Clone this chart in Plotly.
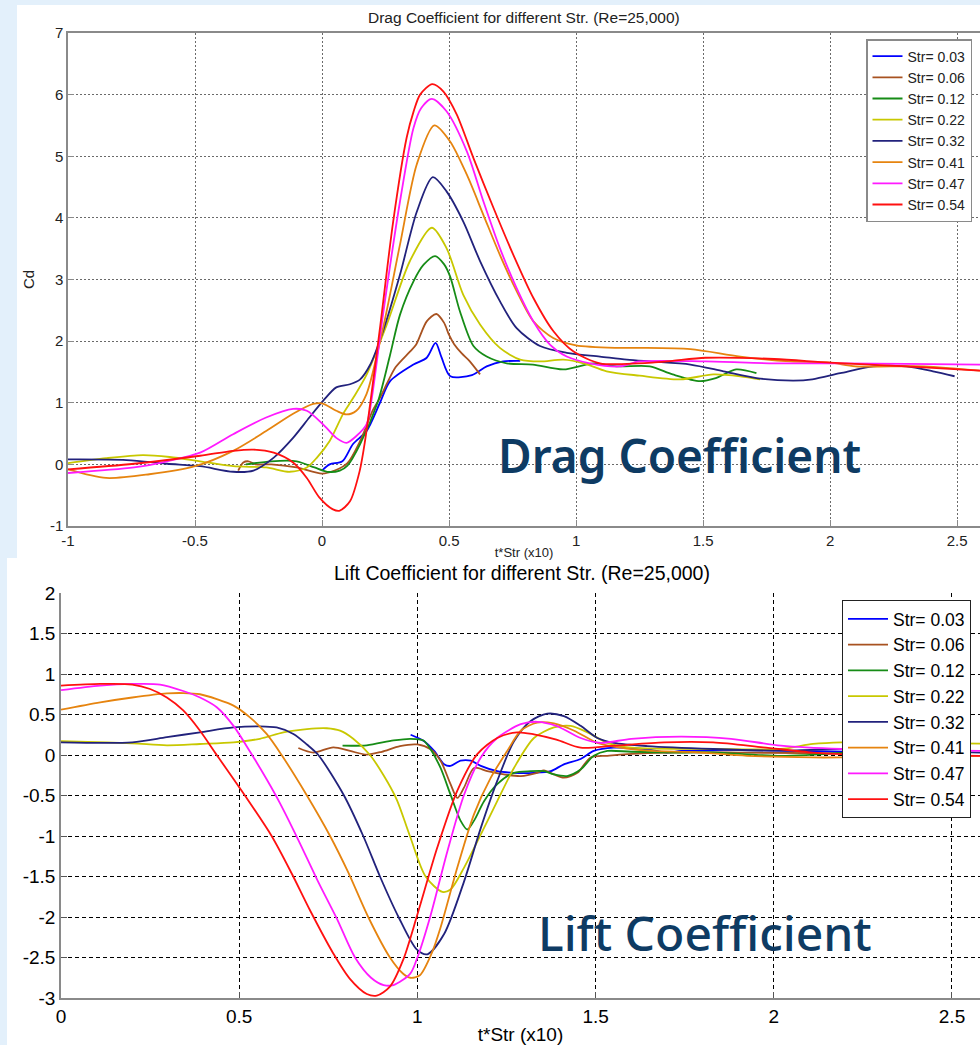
import plotly.graph_objects as go

W, H = 980, 1045

# ---------------- data: Drag coefficient (top) ----------------
series_names = ["Str= 0.03", "Str= 0.06", "Str= 0.12", "Str= 0.22",
                "Str= 0.32", "Str= 0.41", "Str= 0.47", "Str= 0.54"]
series_colors = ["#0000FF", "#A85220", "#168C16", "#C8C800",
                 "#22227C", "#E6840F", "#FF1AFF", "#FF1010"]

cd_x_003 = [0.0, 0.03, 0.08, 0.122, 0.175, 0.228, 0.268, 0.36, 0.412, 0.447, 0.47, 0.505, 0.59, 0.648, 0.713, 0.78]
cd_y_003 = [-0.1, 0.0, 0.05, 0.33, 0.54, 1.0, 1.35, 1.62, 1.73, 1.97, 1.74, 1.43, 1.45, 1.59, 1.67, 1.68]

cd_x_006 = [-0.33, -0.31, -0.29, -0.26, -0.2, -0.1, 0.0, 0.05, 0.1, 0.15, 0.2, 0.228, 0.26, 0.29, 0.346, 0.37, 0.412, 0.45, 0.48, 0.5, 0.52, 0.55, 0.58, 0.622]
cd_y_006 = [-0.1, 0.03, 0.05, 0.0, 0.0, -0.05, -0.15, -0.1, 0.02, 0.38, 0.88, 1.08, 1.35, 1.58, 1.83, 1.94, 2.32, 2.44, 2.3, 2.1, 1.95, 1.8, 1.68, 1.46]

cd_x_012 = [-0.3, -0.2, -0.1, -0.03, 0.02, 0.07, 0.1, 0.15, 0.22, 0.268, 0.307, 0.36, 0.4, 0.445, 0.48, 0.504, 0.543, 0.596, 0.648, 0.727, 0.83, 0.95, 1.068, 1.16, 1.29, 1.38, 1.488, 1.55, 1.63, 1.71]
cd_y_012 = [0.0, 0.05, 0.05, -0.05, -0.12, -0.1, -0.02, 0.33, 1.02, 1.78, 2.43, 2.97, 3.24, 3.38, 3.25, 3.05, 2.48, 1.92, 1.75, 1.64, 1.62, 1.54, 1.64, 1.59, 1.59, 1.46, 1.35, 1.4, 1.54, 1.48]

cd_x_022 = [-1.0, -0.85, -0.705, -0.6, -0.48, -0.35, -0.22, -0.127, -0.06, -0.02, 0.03, 0.083, 0.123, 0.176, 0.255, 0.346, 0.432, 0.49, 0.556, 0.622, 0.70, 0.78, 0.858, 0.95, 1.03, 1.12, 1.25, 1.41, 1.54, 1.646, 1.724]
cd_y_022 = [0.02, 0.1, 0.15, 0.12, 0.05, -0.03, -0.05, -0.12, -0.05, 0.11, 0.38, 0.82, 1.08, 1.46, 2.27, 3.3, 3.84, 3.51, 2.75, 2.27, 1.89, 1.70, 1.67, 1.70, 1.64, 1.51, 1.44, 1.38, 1.46, 1.43, 1.38]

cd_x_032 = [-1.0, -0.77, -0.61, -0.48, -0.35, -0.27, -0.19, -0.114, -0.05, 0.004, 0.056, 0.11, 0.15, 0.19, 0.24, 0.307, 0.373, 0.436, 0.49, 0.556, 0.622, 0.70, 0.766, 0.858, 0.963, 1.094, 1.2, 1.29, 1.45, 1.58, 1.71, 1.854, 1.93, 2.04, 2.17, 2.30, 2.405, 2.49]
cd_y_032 = [0.08, 0.07, 0.01, -0.03, -0.12, -0.1, 0.11, 0.43, 0.76, 1.03, 1.25, 1.30, 1.38, 1.62, 2.16, 3.08, 4.1, 4.66, 4.43, 3.94, 3.3, 2.65, 2.21, 1.92, 1.81, 1.75, 1.70, 1.67, 1.62, 1.51, 1.40, 1.36, 1.38, 1.48, 1.59, 1.59, 1.51, 1.43]

cd_x_041 = [-1.0, -0.85, -0.68, -0.5, -0.35, -0.22, -0.114, -0.035, 0.0, 0.056, 0.096, 0.135, 0.175, 0.24, 0.307, 0.373, 0.442, 0.504, 0.57, 0.635, 0.70, 0.766, 0.832, 0.91, 1.0, 1.17, 1.25, 1.45, 1.646, 1.843, 2.0, 2.10, 2.37, 2.59]
cd_y_041 = [-0.08, -0.22, -0.16, -0.03, 0.22, 0.54, 0.82, 0.98, 0.99, 0.87, 0.81, 0.87, 1.14, 2.21, 3.57, 4.87, 5.5, 5.24, 4.7, 4.05, 3.4, 2.81, 2.32, 2.05, 1.93, 1.89, 1.89, 1.87, 1.75, 1.67, 1.65, 1.59, 1.59, 1.52]

cd_x_047 = [-1.0, -0.74, -0.61, -0.48, -0.35, -0.22, -0.114, -0.06, 0.004, 0.056, 0.096, 0.135, 0.175, 0.195, 0.24, 0.307, 0.36, 0.39, 0.432, 0.49, 0.57, 0.635, 0.70, 0.766, 0.832, 0.898, 0.963, 1.055, 1.17, 1.25, 1.51, 1.78, 2.04, 2.30, 2.59]
cd_y_047 = [-0.14, -0.05, 0.05, 0.19, 0.49, 0.76, 0.9, 0.87, 0.65, 0.43, 0.35, 0.46, 0.65, 1.05, 2.43, 4.27, 5.46, 5.78, 5.93, 5.73, 5.08, 4.27, 3.51, 2.86, 2.32, 1.94, 1.75, 1.64, 1.59, 1.67, 1.67, 1.64, 1.64, 1.63, 1.62]

cd_x_054 = [-1.0, -0.74, -0.48, -0.35, -0.27, -0.19, -0.114, -0.06, -0.01, 0.043, 0.07, 0.11, 0.148, 0.17, 0.19, 0.228, 0.28, 0.333, 0.36, 0.386, 0.434, 0.478, 0.53, 0.596, 0.675, 0.753, 0.832, 0.911, 0.99, 1.094, 1.2, 1.3, 1.38, 1.51, 1.78, 2.0, 2.3, 2.59]
cd_y_054 = [-0.08, 0.01, 0.14, 0.22, 0.24, 0.19, 0.03, -0.22, -0.54, -0.73, -0.75, -0.6, -0.11, 0.4, 1.0, 2.21, 3.94, 5.3, 5.72, 6.0, 6.17, 6.05, 5.68, 4.97, 4.16, 3.4, 2.7, 2.16, 1.83, 1.64, 1.63, 1.65, 1.68, 1.73, 1.71, 1.65, 1.59, 1.52]

# ---------------- data: Lift coefficient (bottom) ----------------
cl_x_003 = [0.981, 1.019, 1.047, 1.075, 1.093, 1.121, 1.15, 1.178, 1.224, 1.271, 1.327, 1.374, 1.411, 1.458, 1.495, 1.551, 1.645, 1.70, 1.74, 1.9, 2.05, 2.2]
cl_y_003 = [0.25, 0.17, 0.05, -0.115, -0.135, -0.07, -0.07, -0.135, -0.2, -0.22, -0.22, -0.2, -0.115, -0.05, 0.05, 0.09, 0.07, 0.03, 0.05, 0.06, 0.05, 0.04]

cl_x_006 = [0.666, 0.708, 0.764, 0.811, 0.858, 0.9, 0.951, 1.0, 1.037, 1.065, 1.093, 1.112, 1.131, 1.159, 1.196, 1.243, 1.29, 1.336, 1.355, 1.383, 1.411, 1.449, 1.486, 1.533, 1.589, 1.7, 1.9, 2.2]
cl_y_006 = [0.086, 0.03, 0.095, 0.05, 0.004, 0.04, 0.11, 0.13, 0.07, -0.07, -0.36, -0.53, -0.4, -0.16, -0.2, -0.24, -0.26, -0.22, -0.19, -0.24, -0.28, -0.22, -0.03, -0.01, 0.01, 0.03, 0.03, 0.02]

cl_x_012 = [0.79, 0.858, 0.933, 0.98, 1.017, 1.037, 1.065, 1.093, 1.121, 1.14, 1.159, 1.187, 1.224, 1.271, 1.318, 1.355, 1.383, 1.42, 1.458, 1.495, 1.533, 1.6, 1.74, 1.83, 2.02, 2.2]
cl_y_012 = [0.115, 0.12, 0.18, 0.2, 0.18, 0.07, -0.16, -0.49, -0.81, -0.92, -0.81, -0.57, -0.36, -0.22, -0.2, -0.2, -0.24, -0.26, -0.18, -0.01, 0.05, 0.04, 0.03, 0.033, -0.01, 0.03]

cl_x_022 = [0.0, 0.05, 0.2, 0.297, 0.39, 0.484, 0.558, 0.624, 0.69, 0.746, 0.783, 0.82, 0.867, 0.905, 0.942, 0.979, 1.023, 1.07, 1.093, 1.131, 1.178, 1.224, 1.271, 1.327, 1.383, 1.43, 1.477, 1.533, 1.6, 1.83, 2.02, 2.11, 2.19, 2.4, 2.58]
cl_y_022 = [0.17, 0.165, 0.144, 0.12, 0.136, 0.156, 0.2, 0.28, 0.32, 0.33, 0.3, 0.2, 0.0, -0.25, -0.55, -1.0, -1.5, -1.69, -1.66, -1.39, -0.98, -0.57, -0.16, 0.21, 0.34, 0.36, 0.28, 0.15, 0.09, 0.074, 0.074, 0.136, 0.156, 0.15, 0.14]

cl_x_032 = [0.0, 0.2, 0.297, 0.39, 0.484, 0.558, 0.605, 0.652, 0.69, 0.722, 0.794, 0.848, 0.895, 0.947, 0.998, 1.028, 1.075, 1.131, 1.178, 1.224, 1.271, 1.318, 1.364, 1.411, 1.458, 1.505, 1.551, 1.645, 1.83, 2.02, 2.19, 2.4, 2.58]
cl_y_032 = [0.156, 0.156, 0.22, 0.28, 0.34, 0.354, 0.34, 0.26, 0.13, 0.0, -0.5, -1.0, -1.5, -2.0, -2.4, -2.46, -2.21, -1.56, -0.9, -0.32, 0.17, 0.42, 0.51, 0.48, 0.36, 0.21, 0.15, 0.11, 0.074, 0.053, 0.074, 0.05, 0.03]

cl_x_041 = [0.0, 0.11, 0.2, 0.297, 0.343, 0.39, 0.437, 0.484, 0.53, 0.577, 0.619, 0.69, 0.755, 0.806, 0.862, 0.923, 0.96, 0.98, 1.007, 1.04, 1.065, 1.112, 1.159, 1.206, 1.252, 1.29, 1.336, 1.383, 1.44, 1.505, 1.57, 1.646, 1.786, 1.925, 2.11, 2.19, 2.4, 2.58]
cl_y_041 = [0.56, 0.65, 0.71, 0.76, 0.765, 0.75, 0.69, 0.61, 0.465, 0.26, 0.0, -0.5, -1.0, -1.45, -2.0, -2.5, -2.7, -2.75, -2.72, -2.45, -2.13, -1.39, -0.73, -0.28, 0.05, 0.3, 0.4, 0.39, 0.3, 0.15, 0.09, 0.053, 0.033, -0.01, -0.03, -0.03, -0.02, -0.01]

cl_x_047 = [0.0, 0.11, 0.2, 0.278, 0.343, 0.39, 0.437, 0.484, 0.532, 0.577, 0.615, 0.666, 0.72, 0.774, 0.825, 0.87, 0.905, 0.933, 0.98, 1.0, 1.037, 1.084, 1.131, 1.178, 1.224, 1.29, 1.336, 1.39, 1.458, 1.514, 1.6, 1.74, 1.88, 2.02, 2.19, 2.4, 2.58]
cl_y_047 = [0.8, 0.856, 0.877, 0.87, 0.79, 0.71, 0.59, 0.36, 0.03, -0.3, -0.6, -1.05, -1.55, -2.02, -2.5, -2.75, -2.84, -2.84, -2.70, -2.5, -1.98, -1.19, -0.49, -0.03, 0.21, 0.38, 0.41, 0.36, 0.21, 0.15, 0.2, 0.226, 0.2, 0.115, 0.074, 0.06, 0.05]

cl_x_054 = [0.0, 0.11, 0.2, 0.25, 0.297, 0.343, 0.39, 0.437, 0.516, 0.591, 0.647, 0.699, 0.764, 0.81, 0.858, 0.886, 0.923, 0.96, 1.0, 1.056, 1.112, 1.168, 1.224, 1.28, 1.327, 1.39, 1.458, 1.553, 1.693, 1.83, 1.97, 2.11, 2.19, 2.4, 2.58]
cl_y_054 = [0.856, 0.877, 0.87, 0.815, 0.71, 0.55, 0.3, 0.0, -0.5, -1.0, -1.46, -1.92, -2.45, -2.76, -2.95, -2.97, -2.86, -2.53, -1.97, -1.14, -0.44, 0.01, 0.21, 0.28, 0.255, 0.19, 0.09, 0.115, 0.156, 0.156, 0.095, 0.03, 0.01, 0.0, -0.01]

# ---------------- tick labels ----------------
cd_xticks = [-1, -0.5, 0, 0.5, 1, 1.5, 2, 2.5]
cd_xtick_text = ["-1", "-0.5", "0", "0.5", "1", "1.5", "2", "2.5"]
cd_yticks = [-1, 0, 1, 2, 3, 4, 5, 6, 7]
cd_ytick_text = ["-1", "0", "1", "2", "3", "4", "5", "6", "7"]
cl_xticks = [0, 0.5, 1, 1.5, 2, 2.5]
cl_xtick_text = ["0", "0.5", "1", "1.5", "2", "2.5"]
cl_yticks = [-3, -2.5, -2, -1.5, -1, -0.5, 0, 0.5, 1, 1.5, 2]
cl_ytick_text = ["-3", "-2.5", "-2", "-1.5", "-1", "-0.5", "0", "0.5", "1", "1.5", "2"]

cd_data = [(cd_x_003, cd_y_003), (cd_x_006, cd_y_006), (cd_x_012, cd_y_012), (cd_x_022, cd_y_022),
           (cd_x_032, cd_y_032), (cd_x_041, cd_y_041), (cd_x_047, cd_y_047), (cd_x_054, cd_y_054)]
cl_data = [(cl_x_003, cl_y_003), (cl_x_006, cl_y_006), (cl_x_012, cl_y_012), (cl_x_022, cl_y_022),
           (cl_x_032, cl_y_032), (cl_x_041, cl_y_041), (cl_x_047, cl_y_047), (cl_x_054, cl_y_054)]

FONT = "Liberation Sans, Arial, sans-serif"

fig = go.Figure()
for i, (xs, ys) in enumerate(cd_data):
    fig.add_trace(go.Scatter(x=xs, y=ys, mode="lines", name=series_names[i],
                             line=dict(color=series_colors[i], width=1.8, shape="spline", smoothing=0.8),
                             xaxis="x", yaxis="y", legend="legend"))
for i, (xs, ys) in enumerate(cl_data):
    fig.add_trace(go.Scatter(x=xs, y=ys, mode="lines", name=series_names[i],
                             line=dict(color=series_colors[i], width=1.8, shape="spline", smoothing=0.8),
                             xaxis="x2", yaxis="y2", legend="legend2"))

def px(x):
    return x / W

def py(y):
    return 1 - y / H

top_grid = dict(showgrid=True, gridcolor="#6a6a6a", gridwidth=1, griddash="2px,2px",
                showline=True, linecolor="#8a8a8a", linewidth=1.5,
                ticks="inside", ticklen=6, tickcolor="#8a8a8a", tickwidth=1.2,
                zeroline=False, tickfont=dict(family=FONT, size=15, color="#222222"))
bot_grid = dict(showgrid=True, gridcolor="#000000", gridwidth=1, griddash="4px,3px",
                showline=True, linecolor="#8a8a8a", linewidth=1.5,
                ticks="inside", ticklen=6, tickcolor="#555555", tickwidth=1,
                zeroline=False, tickfont=dict(family=FONT, size=19, color="#000000"))

fig.update_layout(
    width=W, height=H,
    margin=dict(l=0, r=0, t=0, b=0, pad=0, autoexpand=False),
    paper_bgcolor="#E3F0FB",
    plot_bgcolor="#FFFFFF",
    showlegend=True,
    xaxis=dict(domain=[px(68), 1.0], range=[-1, 2.59], anchor="y",
               tickmode="array", tickvals=cd_xticks, ticktext=cd_xtick_text, mirror=True,
               title=dict(text="t*Str (x10)", font=dict(family=FONT, size=13, color="#222222"), standoff=0),
               **top_grid),
    yaxis=dict(domain=[py(526), py(33)], range=[-1, 7], anchor="x",
               tickmode="array", tickvals=cd_yticks, ticktext=cd_ytick_text,
               title=dict(text="Cd", font=dict(family=FONT, size=15, color="#222222"), standoff=12),
               **top_grid),
    xaxis2=dict(domain=[px(61), 1.0], range=[0, 2.5786], anchor="y2",
                tickmode="array", tickvals=cl_xticks, ticktext=cl_xtick_text,
                title=dict(text="t*Str (x10)", font=dict(family=FONT, size=19, color="#000000"), standoff=2),
                **bot_grid),
    yaxis2=dict(domain=[py(998), py(593)], range=[-3, 2], anchor="x2",
                tickmode="array", tickvals=cl_yticks, ticktext=cl_ytick_text,
                **bot_grid),
    legend=dict(x=px(866), y=py(39), xanchor="left", yanchor="top",
                bgcolor="#FFFFFF", bordercolor="#8a8a8a", borderwidth=1.5,
                font=dict(family=FONT, size=14, color="#222222"),
                traceorder="normal", itemwidth=30),
    legend2=dict(x=px(842), y=py(600), xanchor="left", yanchor="top",
                 bgcolor="#FFFFFF", bordercolor="#222222", borderwidth=1,
                 font=dict(family=FONT, size=17.5, color="#000000"),
                 traceorder="normal", itemwidth=40),
    shapes=[
        dict(type="rect", xref="paper", yref="paper", x0=px(17), x1=1.0, y0=py(558), y1=py(5),
             fillcolor="#FFFFFF", line=dict(width=0), layer="below"),
        dict(type="rect", xref="paper", yref="paper", x0=px(7), x1=1.0, y0=0.0, y1=py(558),
             fillcolor="#FFFFFF", line=dict(width=0), layer="below"),
    ],
    annotations=[
        dict(text="Drag Coefficient for different Str. (Re=25,000)", xref="paper", yref="paper",
             x=px(524), y=py(17), xanchor="center", yanchor="middle", showarrow=False,
             font=dict(family=FONT, size=15.5, color="#222222")),
        dict(text="Lift Coefficient for different Str. (Re=25,000)", xref="paper", yref="paper",
             x=px(522), y=py(573), xanchor="center", yanchor="middle", showarrow=False,
             font=dict(family=FONT, size=19.5, color="#000000")),
        dict(text="Drag Coefficient", xref="paper", yref="paper",
             x=px(679), y=py(455), xanchor="center", yanchor="middle", showarrow=False,
             font=dict(family="Noto Sans", size=46, color="#0E3B63", weight=600)),
        dict(text="Lift Coefficient", xref="paper", yref="paper",
             x=px(705), y=py(932), xanchor="center", yanchor="middle", showarrow=False,
             font=dict(family="Noto Sans", size=48, color="#0E3B63", weight=500)),
    ],
)

fig.write_html("out.html")
